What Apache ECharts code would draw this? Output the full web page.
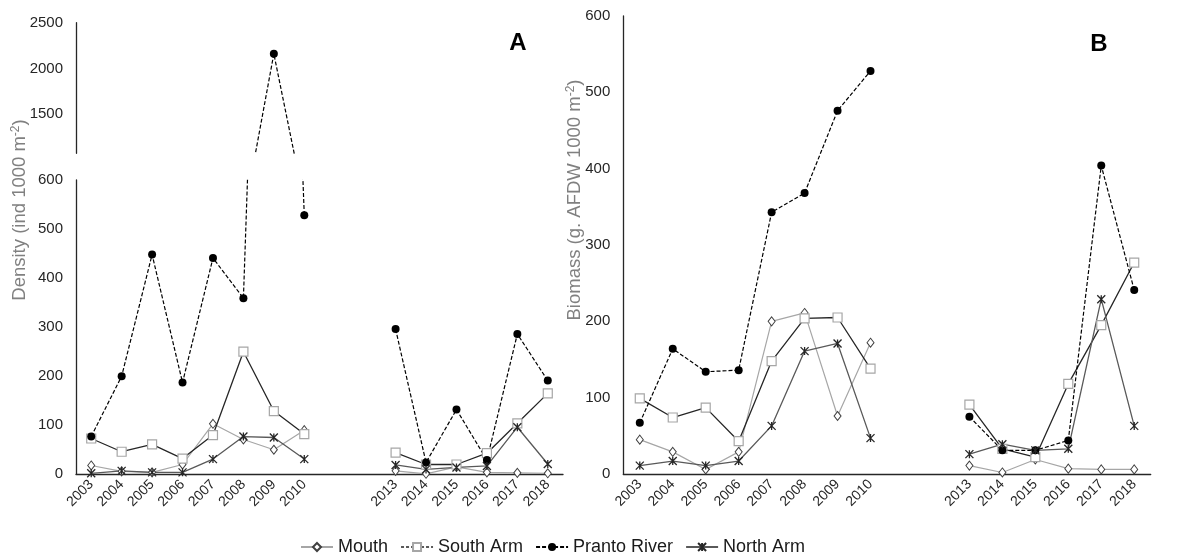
<!DOCTYPE html>
<html>
<head>
<meta charset="utf-8">
<script src="https://cdn.jsdelivr.net/npm/echarts@6/dist/echarts.min.js"></script>
<style>
  html, body { margin: 0; padding: 0; background: #fff; }
  #chart { width: 1177px; height: 558px; }
</style>
</head>
<body>
<div id="chart"></div>
<script>
// years on the x axis (2011 and 2012 were not sampled)
const years = ['2003', '2004', '2005', '2006', '2007', '2008', '2009', '2010',
  '2011', '2012', '2013', '2014', '2015', '2016', '2017', '2018'];
const hiddenYears = ['2011', '2012'];

// A: density (ind 1000 m-2)
const densMouth  = [18, 6, 4, 20, 103, 71, 50, 90, null, null, 7, 1, 15, 4, 3, 2];
const densSouth  = [73, 46, 61, 32, 80, 250, 129, 82, null, null, 44, 20, 20, 43, 104, 165];
const densPranto = [77, 200, 448, 187, 441, 359, 2160, 528, null, null, 296, 24, 132, 29, 286, 191];
const densNorth  = [2, 7, 4, 4, 31, 77, 75, 31, null, null, 19, 10, 14, 17, 96, 21];

// B: biomass (g AFDW 1000 m-2)
const bioMouth  = [45, 29, 6, 29, 200, 211, 76, 172, null, null, 11, 2, 19, 7, 6, 6];
const bioSouth  = [99, 74, 87, 43, 148, 204, 205, 138, null, null, 91, 33, 22, 118, 195, 277];
const bioPranto = [67, 164, 134, 136, 343, 368, 476, 528, null, null, 75, 31, 31, 44, 404, 241];
const bioNorth  = [11, 17, 11, 17, 63, 161, 171, 47, null, null, 26, 39, 31, 33, 229, 63];

// tick values
const lowTicks = [0, 100, 200, 300, 400, 500, 600];
const highTicks = [1500, 2000, 2500];

const font = 'Liberation Sans, Arial, sans-serif';
const starPath = 'path://M0,0L10,10M10,0L0,10M5,0L5,10';

// look of each site, same in both panels
const styles = {
  'Mouth': {
    symbol: 'diamond', symbolSize: [7, 9],
    lineStyle: { color: '#a6a6a6', width: 1.2 },
    itemStyle: { color: '#fff', borderColor: '#404040', borderWidth: 1 }
  },
  'South Arm': {
    symbol: 'rect', symbolSize: 9,
    lineStyle: { color: '#262626', width: 1.3 },
    itemStyle: { color: '#fff', borderColor: '#a6a6a6', borderWidth: 1.2 }
  },
  'Pranto River': {
    symbol: 'circle', symbolSize: 8,
    lineStyle: { color: '#000', width: 1.2, type: [4, 2] },
    itemStyle: { color: '#000', borderColor: '#000', borderWidth: 0 }
  },
  'North Arm': {
    symbol: starPath, symbolSize: 8,
    lineStyle: { color: '#595959', width: 1.3 },
    itemStyle: { color: 'none', borderColor: '#262626', borderWidth: 1.3 }
  }
};

function line (name, data, axisIndex) {
  return Object.assign({
    name: name,
    type: 'line',
    xAxisIndex: axisIndex,
    yAxisIndex: axisIndex,
    data: data,
    clip: true,
    showSymbol: true,
    showAllSymbol: true
  }, styles[name]);
}

function xAxis (gridIndex, show) {
  return {
    type: 'category',
    gridIndex: gridIndex,
    data: years,
    show: show,
    boundaryGap: true,
    axisLine: { lineStyle: { color: '#262626', width: 1.3 } },
    axisTick: { show: false },
    axisLabel: {
      rotate: 45,
      interval: 0,
      margin: 8,
      color: '#262626',
      fontFamily: font,
      fontSize: 14,
      formatter: v => hiddenYears.includes(v) ? '' : v
    }
  };
}

function yAxis (gridIndex, min, max, ticks) {
  return {
    type: 'value',
    gridIndex: gridIndex,
    min: min,
    max: max,
    splitLine: { show: false },
    axisTick: { show: false },
    axisLine: { show: true, lineStyle: { color: '#262626', width: 1.3 } },
    axisLabel: {
      customValues: ticks,
      margin: 13,
      color: '#262626',
      fontFamily: font,
      fontSize: 15,
      formatter: v => String(v)
    }
  };
}

const yName = (x, y, text) => ({
  type: 'text',
  x: x,
  y: y,
  rotation: Math.PI / 2,
  style: {
    text: '{a|' + text + '}{s|-2}{a|)}',
    align: 'center',
    verticalAlign: 'middle',
    rich: {
      a: { fontFamily: font, fontSize: 18.5, fill: '#808080', color: '#808080' },
      s: { fontFamily: font, fontSize: 12, fill: '#808080', color: '#808080', verticalAlign: 'top', lineHeight: 21 }
    }
  }
});

const chart = echarts.init(document.getElementById('chart'));
chart.setOption({
  animation: false,
  backgroundColor: '#fff',
  grid: [
    { left: 76, top: 180, width: 487, height: 294.3, outerBoundsMode: 'none' },   // A lower
    { left: 76, top: 22.7, width: 487, height: 130.6, outerBoundsMode: 'none' },  // A upper (break)
    { left: 623.3, top: 16, width: 527.4, height: 458, outerBoundsMode: 'none' }  // B
  ],
  xAxis: [xAxis(0, true), xAxis(1, false), xAxis(2, true)],
  yAxis: [
    yAxis(0, 0, 600, lowTicks),
    yAxis(1, 1071, 2500, highTicks),
    yAxis(2, 0, 600, lowTicks)
  ],
  legend: {
    left: 295,
    top: 533,
    itemWidth: 32,
    itemHeight: 10,
    itemGap: 12,
    textStyle: { fontFamily: font, fontSize: 18, color: '#1a1a1a' },
    data: [
      { name: 'Mouth' },
      { name: 'South Arm', lineStyle: { type: [3, 2], color: '#595959' } },
      { name: 'Pranto River' },
      { name: 'North Arm' }
    ]
  },
  graphic: [
    yName(20, 210, 'Density (ind 1000 m'),
    yName(575, 200, 'Biomass (g. AFDW 1000 m'),
    { type: 'text', x: 518, y: 43, style: { text: 'A', fontFamily: font, fontSize: 24, fontWeight: 'bold', fill: '#000', align: 'center', verticalAlign: 'middle' } },
    { type: 'text', x: 1099, y: 44, style: { text: 'B', fontFamily: font, fontSize: 24, fontWeight: 'bold', fill: '#000', align: 'center', verticalAlign: 'middle' } }
  ],
  series: [
    line('Mouth', densMouth, 0),
    line('South Arm', densSouth, 0),
    line('Pranto River', densPranto, 0),
    line('North Arm', densNorth, 0),
    line('Pranto River', densPranto, 1),
    line('Mouth', bioMouth, 2),
    line('South Arm', bioSouth, 2),
    line('Pranto River', bioPranto, 2),
    line('North Arm', bioNorth, 2)
  ]
});
</script>
</body>
</html>
